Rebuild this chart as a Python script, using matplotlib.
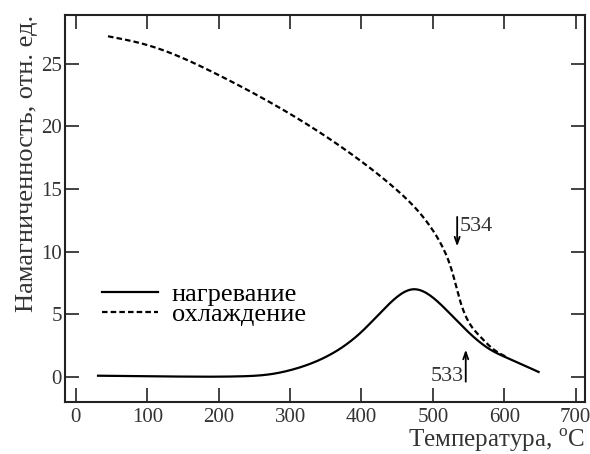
import matplotlib.pyplot as plt
from matplotlib.lines import Line2D
import numpy as np

# нагревание (heating)
heat_t = [31, 150, 230, 270, 310, 350, 400, 440, 472, 505, 530, 555, 580, 605, 648]
heat_m = [0.1, 0.03, 0.05, 0.2, 0.7, 1.6, 3.6, 5.9, 7.0, 6.1, 4.7, 3.3, 2.2, 1.5, 0.4]

# охлаждение (cooling)
cool_t = [45, 100, 200, 300, 400, 450, 480, 500, 515, 527, 538, 550, 565, 585, 603]
cool_m = [27.2, 26.5, 24.1, 21.0, 17.2, 14.9, 13.2, 11.7, 10.2, 8.4, 6.1, 4.4, 3.3, 2.2, 1.6]

xticks = [0, 100, 200, 300, 400, 500, 600, 700]
yticks = [0, 5, 10, 15, 20, 25]


def spline(x, y, n=400):
    # натуральный кубический сплайн
    x = np.asarray(x, float)
    y = np.asarray(y, float)
    N = len(x)
    h = np.diff(x)
    A = np.zeros((N, N))
    b = np.zeros(N)
    A[0, 0] = A[-1, -1] = 1
    for i in range(1, N - 1):
        A[i, i - 1] = h[i - 1]
        A[i, i] = 2 * (h[i - 1] + h[i])
        A[i, i + 1] = h[i]
        b[i] = 3 * ((y[i + 1] - y[i]) / h[i] - (y[i] - y[i - 1]) / h[i - 1])
    c = np.linalg.solve(A, b)
    bb = (y[1:] - y[:-1]) / h - h * (2 * c[:-1] + c[1:]) / 3
    d = (c[1:] - c[:-1]) / (3 * h)
    xs = np.linspace(x[0], x[-1], n)
    k = np.clip(np.searchsorted(x, xs) - 1, 0, N - 2)
    dx = xs - x[k]
    ys = y[k] + bb[k] * dx + c[k] * dx**2 + d[k] * dx**3
    return xs, ys


plt.rcParams['font.family'] = ['Liberation Serif', 'DejaVu Serif']
plt.rcParams['mathtext.fontset'] = 'custom'
plt.rcParams['mathtext.rm'] = 'Liberation Serif'

dash = (0, (2.5, 1.4))

fig = plt.figure(figsize=(5.9, 4.54), dpi=100)
ax = fig.add_axes([0.110, 0.1145, 0.8815, 0.8525])

hx, hy = spline(heat_t, heat_m)
cx, cy = spline(cool_t, cool_m)
ax.plot(hx, hy, color='black', linewidth=1.6)
ax.plot(cx, cy, color='black', linewidth=1.6, linestyle=dash)

ax.set_xlim(-15.4, 713)
ax.set_ylim(-2.0, 28.9)
ax.set_xticks(xticks)
ax.set_yticks(yticks)
ax.tick_params(direction='in', length=10, width=1.2, labelsize=15,
               top=True, right=True, colors='#222222', labelcolor='#333333')
ax.tick_params(axis='y', pad=2)
ax.tick_params(axis='x', pad=4)
for s in ax.spines.values():
    s.set_linewidth(1.5)
    s.set_color('#222222')

ax.set_ylabel('Намагниченность, отн. ед.', fontsize=19, color='#333333',
              loc='top', labelpad=2)
ax.set_xlabel(r'Температура, $^{\rm o}$C', fontsize=18, color='#333333',
              loc='right', labelpad=0)

# стрелки точек Кюри
head = '->,head_length=0.5,head_width=0.18'
ax.annotate('', xy=(534, 10.2), xytext=(534, 13.0),
            arrowprops=dict(arrowstyle=head, color='black', lw=1.3))
ax.text(537, 12.0, '534', fontsize=16, color='#333333', va='center', ha='left')
ax.annotate('', xy=(546, 2.4), xytext=(546, -0.6),
            arrowprops=dict(arrowstyle=head, color='black', lw=1.3))
ax.text(543, 0.05, '533', fontsize=16, color='#333333', va='center', ha='right')

handles = [Line2D([], [], color='black', linewidth=1.6),
           Line2D([], [], color='black', linewidth=1.6, linestyle=dash)]
ax.legend(handles, ['нагревание', 'охлаждение'], frameon=False, fontsize=19,
          loc='lower left', bbox_to_anchor=(0.0706, 0.197), handlelength=2.15,
          handletextpad=0.5, labelspacing=-0.15, borderpad=0, borderaxespad=0)

fig.savefig('out.png', dpi=100)
